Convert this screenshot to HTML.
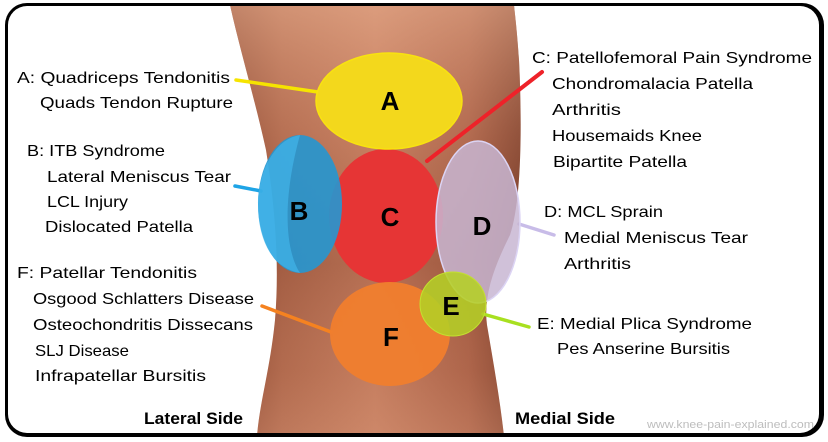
<!DOCTYPE html>
<html><head><meta charset="utf-8"><style>
html,body{margin:0;padding:0;background:#fff;}
svg{display:block;}
</style></head><body>
<svg width="828" height="442" viewBox="0 0 828 442" xmlns="http://www.w3.org/2000/svg">
<defs>
<linearGradient id="skinH" x1="0" y1="0" x2="1" y2="0">
<stop offset="0" stop-color="#8a4630"/>
<stop offset="0.18" stop-color="#ad6549"/>
<stop offset="0.5" stop-color="#c27a5c"/>
<stop offset="0.82" stop-color="#a95f45"/>
<stop offset="1" stop-color="#7e3f2b"/>
</linearGradient>
<linearGradient id="skinV" x1="0" y1="0" x2="0" y2="1">
<stop offset="0" stop-color="#f0b898" stop-opacity="0.55"/>
<stop offset="0.3" stop-color="#e0a080" stop-opacity="0.2"/>
<stop offset="0.6" stop-color="#6a3020" stop-opacity="0.15"/>
<stop offset="0.85" stop-color="#e0a080" stop-opacity="0.1"/>
<stop offset="1" stop-color="#e8a888" stop-opacity="0.3"/>
</linearGradient>
<clipPath id="inner"><rect x="8" y="6" width="811" height="427" rx="19"/></clipPath>
</defs>
<rect x="0" y="0" width="828" height="442" fill="#fff"/>
<rect x="5" y="3" width="819" height="434" rx="22" fill="#000"/>
<rect x="8" y="6" width="811" height="427" rx="19" fill="#fff"/>
<g clip-path="url(#inner)">
<path d="M230,5 C240,50 255,100 266,150 C274,200 280,260 275,320 C270,370 260,400 257,436 L504,436 C500,400 493,360 487,325 C483,295 495,265 510,235 C522,200 522,120 519,60 C517,30 515,15 514,5 Z" fill="url(#skinH)"/>
<path d="M230,5 C240,50 255,100 266,150 C274,200 280,260 275,320 C270,370 260,400 257,436 L504,436 C500,400 493,360 487,325 C483,295 495,265 510,235 C522,200 522,120 519,60 C517,30 515,15 514,5 Z" fill="url(#skinV)"/>
</g>
<!-- connector lines -->
<g stroke-linecap="round" fill="none">
<line x1="236" y1="80" x2="318" y2="92" stroke="#f6e400" stroke-width="3.5"/>
<line x1="235" y1="186" x2="261" y2="191" stroke="#1ea4e6" stroke-width="3.5"/>
<line x1="542" y1="72" x2="427" y2="161" stroke="#ee2229" stroke-width="4"/>
<line x1="519" y1="224" x2="554" y2="235" stroke="#c8bce8" stroke-width="3.5"/>
<line x1="483" y1="314" x2="529" y2="327" stroke="#a8e020" stroke-width="3.5"/>
<line x1="262" y1="306" x2="331" y2="332" stroke="#f58220" stroke-width="3.5"/>
</g>
<!-- zones -->
<ellipse cx="386" cy="216" rx="57" ry="67" fill="#e63535"/>
<ellipse cx="389" cy="101" rx="73" ry="48" fill="#f3d81c" stroke="#f8e210" stroke-width="1.5"/>
<ellipse cx="390" cy="334" rx="60" ry="52" fill="#f07e2e" fill-opacity="0.97"/>
<ellipse cx="300" cy="204" rx="42" ry="69" fill="#2597d2" fill-opacity="0.9"/>
<path d="M300,135 C270,140 258,180 258,204 C258,240 272,268 300,273 C285,250 282,200 300,135 Z" fill="#45baf0" fill-opacity="0.6"/>
<ellipse cx="478" cy="222" rx="42" ry="81" fill="#c8b6d2" fill-opacity="0.85" stroke="#dcd4f4" stroke-width="1.5"/>
<ellipse cx="453" cy="304" rx="33" ry="32" fill="#b4cf26" fill-opacity="0.88" stroke="#c4e030" stroke-width="1"/>
<!-- letters -->
<g font-family="Liberation Sans, sans-serif" font-weight="bold" font-size="26" fill="#000" text-anchor="middle">
<text x="390" y="110">A</text>
<text x="299" y="220">B</text>
<text x="390" y="226">C</text>
<text x="482" y="235">D</text>
<text x="451" y="315">E</text>
<text x="391" y="346">F</text>
</g>
<!-- labels -->
<g font-family="Liberation Sans, sans-serif" font-size="16" fill="#000" lengthAdjust="spacingAndGlyphs">
<text x="17" y="83" textLength="213" lengthAdjust="spacingAndGlyphs">A: Quadriceps Tendonitis</text>
<text x="40" y="108" textLength="193" lengthAdjust="spacingAndGlyphs">Quads Tendon Rupture</text>
<text x="27" y="156" textLength="138" lengthAdjust="spacingAndGlyphs">B: ITB Syndrome</text>
<text x="47" y="182" textLength="184" lengthAdjust="spacingAndGlyphs">Lateral Meniscus Tear</text>
<text x="47" y="207" textLength="81" lengthAdjust="spacingAndGlyphs">LCL Injury</text>
<text x="45" y="232" textLength="148" lengthAdjust="spacingAndGlyphs">Dislocated Patella</text>
<text x="17" y="278" textLength="180" lengthAdjust="spacingAndGlyphs">F: Patellar Tendonitis</text>
<text x="33" y="304" textLength="221" lengthAdjust="spacingAndGlyphs">Osgood Schlatters Disease</text>
<text x="33" y="330" textLength="220" lengthAdjust="spacingAndGlyphs">Osteochondritis Dissecans</text>
<text x="35" y="356" textLength="94" lengthAdjust="spacingAndGlyphs">SLJ Disease</text>
<text x="35" y="381" textLength="171" lengthAdjust="spacingAndGlyphs">Infrapatellar Bursitis</text>
<text x="532" y="63" textLength="280" lengthAdjust="spacingAndGlyphs">C: Patellofemoral Pain Syndrome</text>
<text x="552" y="89" textLength="201" lengthAdjust="spacingAndGlyphs">Chondromalacia Patella</text>
<text x="552" y="115" textLength="69" lengthAdjust="spacingAndGlyphs">Arthritis</text>
<text x="552" y="141" textLength="150" lengthAdjust="spacingAndGlyphs">Housemaids Knee</text>
<text x="553" y="167" textLength="134" lengthAdjust="spacingAndGlyphs">Bipartite Patella</text>
<text x="544" y="217" textLength="119" lengthAdjust="spacingAndGlyphs">D: MCL Sprain</text>
<text x="564" y="243" textLength="184" lengthAdjust="spacingAndGlyphs">Medial Meniscus Tear</text>
<text x="564" y="269" textLength="67" lengthAdjust="spacingAndGlyphs">Arthritis</text>
<text x="537" y="329" textLength="215" lengthAdjust="spacingAndGlyphs">E: Medial Plica Syndrome</text>
<text x="557" y="354" textLength="173" lengthAdjust="spacingAndGlyphs">Pes Anserine Bursitis</text>
</g>
<g font-family="Liberation Sans, sans-serif" font-weight="bold" font-size="17" fill="#000">
<text x="144" y="424" textLength="99" lengthAdjust="spacingAndGlyphs">Lateral Side</text>
<text x="515" y="424" textLength="100" lengthAdjust="spacingAndGlyphs">Medial Side</text>
</g>
<text x="647" y="428" font-family="Liberation Sans, sans-serif" font-size="11" fill="#bdbdbd" textLength="167" lengthAdjust="spacingAndGlyphs">www.knee-pain-explained.com</text>
</svg>
</body></html>
